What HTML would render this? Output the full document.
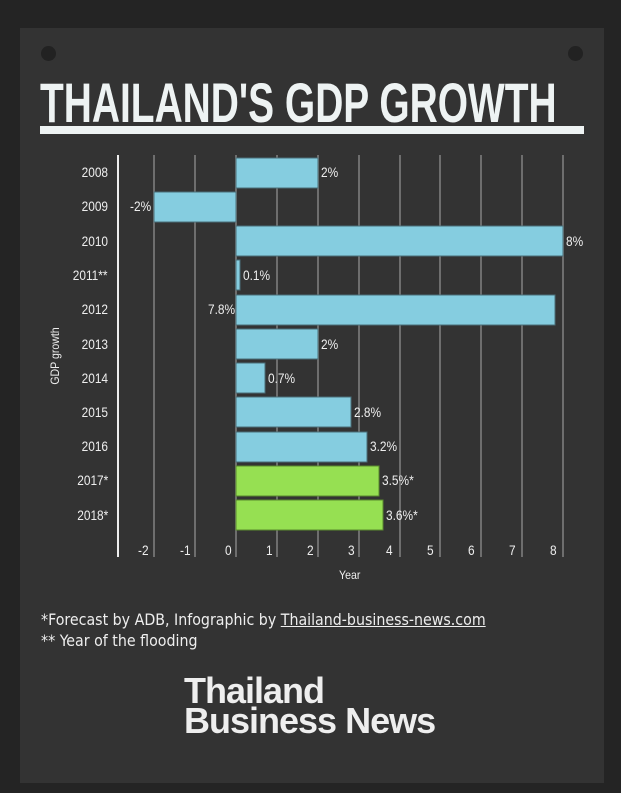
<!DOCTYPE html>
<html><head><style>
body{margin:0;width:621px;height:793px;background:#242424;overflow:hidden;font-family:"Liberation Sans",sans-serif}
.panel{position:absolute;left:20px;top:28px;width:584px;height:755px;background:#333}
.hole{position:absolute;width:15px;height:15px;border-radius:50%;background:#222}
.title{position:absolute;left:40px;top:70px;font:bold 56px "Liberation Sans",sans-serif;color:#eef3f3;white-space:nowrap;transform-origin:0 0;transform:scaleX(0.695);letter-spacing:0px}
.rule{position:absolute;left:40px;top:126px;width:544px;height:8px;background:#eef3f3}
.t{position:absolute;color:#eee;font:13.5px "Liberation Sans",sans-serif;white-space:nowrap;transform:scaleX(0.88);transform-origin:0 0}
.r{transform-origin:100% 0}
.fn{position:absolute;left:41px;color:#eee;font:15.8px "DejaVu Sans Condensed","Liberation Sans",sans-serif;white-space:nowrap}
.logo{position:absolute;left:184px;color:#eee;font:bold 36px "Liberation Sans",sans-serif;letter-spacing:-1px;line-height:30px;white-space:nowrap}
</style></head><body>
<div class="panel"></div>
<div class="hole" style="left:41px;top:46px"></div>
<div class="hole" style="left:568px;top:46px"></div>
<div class="title">THAILAND'S GDP GROWTH</div>
<div class="rule"></div>
<svg width="621" height="793" style="position:absolute;left:0;top:0">
<g stroke="#6e6e6e" stroke-width="2">
<line x1="154" y1="155" x2="154" y2="557"/><line x1="195" y1="155" x2="195" y2="557"/><line x1="236" y1="155" x2="236" y2="557"/><line x1="277" y1="155" x2="277" y2="557"/><line x1="318" y1="155" x2="318" y2="557"/><line x1="359" y1="155" x2="359" y2="557"/><line x1="400" y1="155" x2="400" y2="557"/><line x1="440" y1="155" x2="440" y2="557"/><line x1="481" y1="155" x2="481" y2="557"/><line x1="522" y1="155" x2="522" y2="557"/><line x1="563" y1="155" x2="563" y2="557"/>
</g>
<line x1="118" y1="155" x2="118" y2="557" stroke="#eee" stroke-width="2"/>
<g stroke="#4a6e78" stroke-width="1" fill="#85cde0">
<rect x="236" y="158" width="82" height="30"/>
<rect x="154" y="192" width="82" height="30"/>
<rect x="236" y="226" width="327" height="30"/>
<rect x="236" y="260" width="4" height="30"/>
<rect x="236" y="295" width="319" height="30"/>
<rect x="236" y="329" width="82" height="30"/>
<rect x="236" y="363" width="29" height="30"/>
<rect x="236" y="397" width="115" height="30"/>
<rect x="236" y="432" width="131" height="30"/>
</g>
<g stroke="#5a8a2e" stroke-width="1" fill="#96e052">
<rect x="236" y="466" width="143" height="30"/>
<rect x="236" y="500" width="147" height="30"/>
</g>
</svg>
<div class="t r" style="right:513px;top:165px">2008</div>
<div class="t r" style="right:513px;top:199px">2009</div>
<div class="t r" style="right:513px;top:234px">2010</div>
<div class="t r" style="right:513px;top:268px">2011**</div>
<div class="t r" style="right:513px;top:302px">2012</div>
<div class="t r" style="right:513px;top:337px">2013</div>
<div class="t r" style="right:513px;top:371px">2014</div>
<div class="t r" style="right:513px;top:405px">2015</div>
<div class="t r" style="right:513px;top:439px">2016</div>
<div class="t r" style="right:513px;top:473px">2017*</div>
<div class="t r" style="right:513px;top:508px">2018*</div>
<div class="t" style="left:321px;top:165px">2%</div>
<div class="t" style="left:130px;top:199px">-2%</div>
<div class="t" style="left:566px;top:234px">8%</div>
<div class="t" style="left:243px;top:268px">0.1%</div>
<div class="t" style="left:208px;top:302px">7.8%</div>
<div class="t" style="left:321px;top:337px">2%</div>
<div class="t" style="left:268px;top:371px">0.7%</div>
<div class="t" style="left:354px;top:405px">2.8%</div>
<div class="t" style="left:370px;top:439px">3.2%</div>
<div class="t" style="left:382px;top:473px">3.5%*</div>
<div class="t" style="left:386px;top:508px">3.6%*</div>
<div class="t" style="left:138px;top:543px">-2</div>
<div class="t" style="left:180px;top:543px">-1</div>
<div class="t" style="left:225px;top:543px">0</div>
<div class="t" style="left:266px;top:543px">1</div>
<div class="t" style="left:307px;top:543px">2</div>
<div class="t" style="left:348px;top:543px">3</div>
<div class="t" style="left:386px;top:543px">4</div>
<div class="t" style="left:427px;top:543px">5</div>
<div class="t" style="left:468px;top:543px">6</div>
<div class="t" style="left:509px;top:543px">7</div>
<div class="t" style="left:550px;top:543px">8</div>
<div class="t" style="left:339px;top:568px;font-size:12px">Year</div>
<div class="t" style="left:55px;top:356px;font-size:12px;transform-origin:50% 50%;transform:translate(-50%,-50%) rotate(-90deg) scaleX(0.88)">GDP growth</div>
<div class="fn" style="top:610px">*Forecast by ADB, Infographic by <span style="text-decoration:underline">Thailand-business-news.com</span></div>
<div class="fn" style="top:631px">** Year of the flooding</div>
<div class="logo" style="top:676px">Thailand<br>Business News</div>
</body></html>
